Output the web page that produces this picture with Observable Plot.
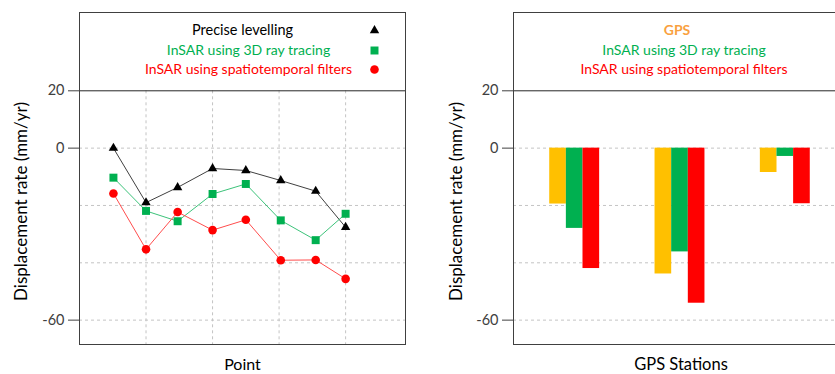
<!DOCTYPE html>
<html><head><meta charset="utf-8">
<script src="https://cdn.jsdelivr.net/npm/d3@7"></script>
<script src="https://cdn.jsdelivr.net/npm/@observablehq/plot@0.6"></script>
<style>
html,body{margin:0;padding:0;background:#fff;overflow:hidden}
#wrap{position:relative;width:835px;height:374px;overflow:hidden;background:#fff}
#left{position:absolute;left:0;top:0;width:420px;height:374px}
#right{position:absolute;left:420px;top:0;width:440px;height:374px}
#wrap svg{max-width:none !important;display:block}
</style></head><body><div id="wrap"><div id="left"></div><div id="right"></div></div>
<script>
// ---- data ----
const pointX = [1.02, 2, 2.95, 4, 5, 6.05, 7.1, 8];
const levelling = [0, -19, -13.7, -7.1, -7.8, -11.3, -15, -27.6];
const insar3d = [-10.3, -21.9, -25.5, -16, -12.5, -25.2, -32.1, -22.9];
const insarFilters = [-15.8, -35.3, -22.3, -28.6, -25, -39.1, -39, -45.6];

const stations = ["GPS station 1", "GPS station 2", "GPS station 3"];
const gpsRate = [-19.5, -43.9, -8.5];
const ray3dRate = [-28, -36.2, -2.9];
const filterRate = [-42, -54.1, -19.4];

const yTicks = [20, 0, -60];
const yGrid = [0, -20, -40, -60];
const xGrid = [2, 4, 6, 8];
const yTop = 20, yBottom = -68.5;

const legendLeft = ["Precise levelling", "InSAR using 3D ray tracing", "InSAR using spatiotemporal filters"];
const legendRight = ["GPS", "InSAR using 3D ray tracing", "InSAR using spatiotemporal filters"];
const yTitle = "Displacement rate (mm/yr)";

const cBlack = "#000000", cGreen = "#00B050", cRed = "#FF0000", cYellow = "#FFC000", cOrange = "#F9A13F";
const gridStyle = {stroke: "#c4c4c4", strokeDasharray: "3,3"};
const font = "Lato, 'Open Sans', sans-serif";

const lineRows = pointX.map((x, i) => ({x, lev: levelling[i], ray: insar3d[i], filt: insarFilters[i]}));
const barRows = stations.map((s, i) => ({station: s, gps: gpsRate[i], ray: ray3dRate[i], filt: filterRate[i]}));

const yOpts = {domain: [yTop, yBottom], range: [90.3, 344], ticks: yTicks, tickSize: 11, tickPadding: 4, label: null, tickFormat: d => String(d)};

const left = Plot.plot({
  width: 420, height: 374,
  marginLeft: 79, marginRight: 15, marginTop: 12, marginBottom: 30,
  style: {fontFamily: font, fontSize: "14.5px", color: "#404040", background: "white"},
  x: {domain: [0, 9.8], axis: null},
  y: yOpts,
  marks: [
    Plot.ruleY(yGrid, gridStyle),
    Plot.ruleX(xGrid, {y1: yTop, y2: yBottom, ...gridStyle}),
    Plot.ruleY([yTop], {stroke: "#262626"}),
    Plot.frame({stroke: "#404040"}),
    Plot.line(lineRows, {x: "x", y: "lev", stroke: "#404040", strokeWidth: 1}),
    Plot.line(lineRows, {x: "x", y: "ray", stroke: "#3cc37a", strokeWidth: 1}),
    Plot.line(lineRows, {x: "x", y: "filt", stroke: "#ff4d4d", strokeWidth: 1}),
    Plot.dot(lineRows, {x: "x", y: "lev", symbol: "triangle", r: 3.5, fill: cBlack, stroke: "none"}),
    Plot.dot(lineRows, {x: "x", y: "ray", symbol: "square", r: 4.5, fill: cGreen, stroke: "none"}),
    Plot.dot(lineRows, {x: "x", y: "filt", symbol: "circle", r: 4.3, fill: cRed, stroke: "none"}),
    // legend
    Plot.text([legendLeft[0]], {frameAnchor: "top", dy: 18, dx: 0, lineAnchor: "middle", fill: "#000", fontSize: 14.5}),
    Plot.text([legendLeft[1]], {frameAnchor: "top", dy: 38, dx: 6, lineAnchor: "middle", fill: cGreen, fontSize: 14}),
    Plot.text([legendLeft[2]], {frameAnchor: "top", dy: 57, dx: 6, lineAnchor: "middle", fill: cRed, fontSize: 14}),
    Plot.dot([0], {frameAnchor: "top", dx: 132, dy: 18, symbol: "triangle", r: 3.5, fill: cBlack, stroke: "none"}),
    Plot.dot([0], {frameAnchor: "top", dx: 132, dy: 38, symbol: "square", r: 4.5, fill: cGreen, stroke: "none"}),
    Plot.dot([0], {frameAnchor: "top", dx: 132, dy: 57, symbol: "circle", r: 4.3, fill: cRed, stroke: "none"}),
    // titles
    Plot.text([yTitle], {frameAnchor: "left", textAnchor: "middle", rotate: -90, dx: -58, dy: 23, fill: "#000", fontSize: 17}),
    Plot.text(["Point"], {frameAnchor: "bottom", dy: 20, lineAnchor: "middle", fill: "#000", fontSize: 16})
  ]
});
document.getElementById("left").appendChild(left);

const right = Plot.plot({
  width: 440, height: 374,
  marginLeft: 93, marginRight: 14, marginTop: 12, marginBottom: 30,
  style: {fontFamily: font, fontSize: "14.5px", color: "#404040", background: "white"},
  x: {type: "band", domain: stations, paddingInner: 0.526, paddingOuter: 0.344, round: false, axis: null},
  y: yOpts,
  marks: [
    Plot.ruleY(yGrid, gridStyle),
    Plot.ruleY([yTop], {stroke: "#262626"}),
    Plot.frame({stroke: "#404040"}),
    Plot.barY(barRows, {x: "station", y: "gps", fill: cYellow, insetLeft: 0, insetRight: 33.27}),
    Plot.barY(barRows, {x: "station", y: "ray", fill: cGreen, insetLeft: 16.63, insetRight: 16.63}),
    Plot.barY(barRows, {x: "station", y: "filt", fill: cRed, insetLeft: 33.27, insetRight: 0}),
    Plot.text([legendRight[0]], {frameAnchor: "top", dy: 18, dx: -3, lineAnchor: "middle", fill: cOrange, fontWeight: "bold", fontSize: 14}),
    Plot.text([legendRight[1]], {frameAnchor: "top", dy: 38, dx: 4, lineAnchor: "middle", fill: cGreen, fontSize: 14}),
    Plot.text([legendRight[2]], {frameAnchor: "top", dy: 57, dx: 4, lineAnchor: "middle", fill: cRed, fontSize: 14}),
    Plot.text([yTitle], {frameAnchor: "left", textAnchor: "middle", rotate: -90, dx: -57, dy: 23, fill: "#000", fontSize: 17}),
    Plot.text(["GPS Stations"], {frameAnchor: "bottom", dy: 20, dx: 1, lineAnchor: "middle", fill: "#000", fontSize: 16.5})
  ]
});
document.getElementById("right").appendChild(right);
</script></body></html>
